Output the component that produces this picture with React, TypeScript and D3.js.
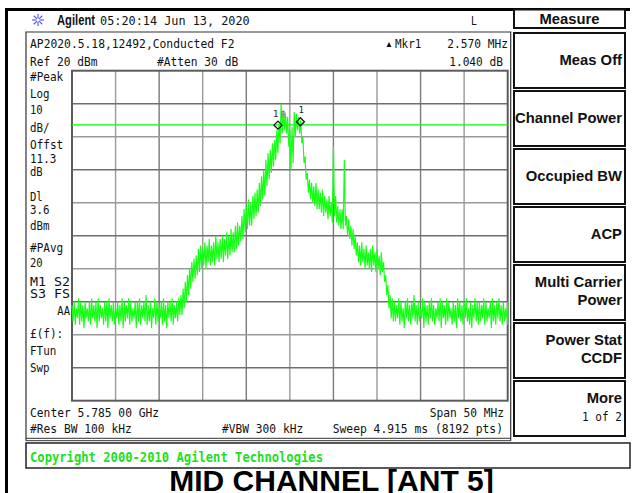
import React from "react";
import * as d3 from "d3";

const W = 642;
const H = 493;

// Analyzer settings
const REF_LEVEL = 20;
const DB_PER_DIV = 10;
const DIVS = 10;
const SPAN_MHZ = 50;
const DISPLAY_LINE = 3.6;

// Trace: peak (hi) / valley (lo) level per 0.25 MHz bin, offset from center (MHz)
const TRACE_START = -25;
const TRACE_STEP = 0.25;
const traceHi = [
  -51, -50, -52, -49, -50, -51, -50, -52, -50, -49, -51, -50, -49, -51, -52, -50, -50, -49, -51, -50,
  -52, -50, -51, -49, -50, -51, -49, -50, -52, -50, -50, -49, -51, -50, -48, -51, -50, -52, -49, -50,
  -51, -50, -49, -51, -50, -50, -49, -51, -50, -49,
  -48, -46, -44, -42, -40, -38, -37, -36, -34,
  -33, -34, -32, -33, -31, -33, -32, -30, -32, -31, -30, -31, -29, -30, -28, -29,
  -27, -26, -27, -24, -22, -21, -19, -20, -18, -17, -16, -14,
  -12, -10, -7, -5, -4,
  -2, -1, 2, 4,
  10, 8, 7, 6, 2, 3, 7.5, 7, 6, 5, 0, -6, -11,
  -13, -14, -15, -14, -16, -17, -16, -18, -19, -18, -20,
  -3,
  -18,
  -21, -22, -22,
  -7,
  -24, -25, -27, -28, -30,
  -32, -33, -32, -34, -33, -35, -34, -33, -35, -34, -36, -35,
  -38, -42, -45, -48, -49,
  -50, -51, -49, -50, -52, -50, -49, -51, -50, -48, -51, -50, -52, -49, -50, -51, -50, -49, -51, -52,
  -50, -49, -50, -51, -49, -50, -52, -50, -51, -49, -50, -51, -50, -49, -52, -50, -51, -49, -50, -50,
  -51, -49, -50, -52, -50, -49, -51, -50, -49, -51, -50, -52, -50,
];
const traceLo = [
  -56, -57, -55, -57, -56, -58, -55, -56, -57, -55, -56, -58, -56, -55, -57, -56, -58, -55, -56, -57,
  -55, -57, -56, -58, -56, -55, -57, -56, -55, -58, -56, -57, -55, -56, -57, -56, -58, -55, -57, -56,
  -55, -57, -56, -58, -55, -56, -57, -55, -56, -54,
  -54, -52, -50, -48, -46, -44, -43, -42, -41,
  -40, -39, -40, -38, -39, -38, -39, -37, -38, -37, -38, -36, -37, -36, -35, -35,
  -34, -33, -32, -31, -29, -28, -27, -27, -25, -24, -23, -21,
  -19, -18, -15, -13, -11,
  -9, -7, -5, -2,
  1, 2, 1, -3, -10, -8, 0, 2, 1, -2, -8, -13, -17,
  -19, -20, -21, -22, -22, -23, -24, -23, -25, -24, -26,
  -24,
  -26,
  -27, -28, -28,
  -27,
  -30, -31, -33, -34, -36,
  -38, -39, -38, -40, -39, -40, -41, -39, -41, -40, -42, -41,
  -44, -48, -52, -55, -56,
  -56, -55, -57, -56, -58, -55, -56, -57, -55, -56, -57, -56, -55, -58, -56, -57, -55, -56, -57, -55,
  -56, -58, -55, -57, -56, -55, -57, -56, -58, -55, -56, -57, -55, -56, -57, -58, -55, -56, -57, -56,
  -55, -57, -56, -55, -58, -56, -57, -55, -56, -57, -56, -55, -57,
];

// Markers (MHz offset, dBm)
const markerRef = { f: -1.36, level: 3.5, label: "1R" };
const markerDelta = { f: 1.21, level: 4.54, label: "1" };

// Texts
const headerTime = "05:20:14  Jun 13, 2020";
const titleLine = "AP2020.5.18,12492,Conducted F2";
const refText = "Ref 20 dBm";
const attenText = "#Atten 30 dB";
const mkrLabel = "Mkr1";
const mkrFreq = "2.570 MHz";
const mkrDelta = "1.040 dB";
const leftLabels = [
  "#Peak", "Log", "10", "dB/", "Offst", "11.3", "dB", "Dl", "3.6", "dBm",
  "#PAvg", "20", "M1  S2", "S3  FS", "AA", "£(f):", "FTun", "Swp",
];
const leftBaselines = [81, 97.7, 114, 131.5, 148.5, 163, 176, 200.5, 213.5, 230, 251.5, 267, 285.5, 297.5, 315, 338, 355, 372];
const centerText = "Center 5.785 00 GHz";
const spanText = "Span 50 MHz";
const rbwText = "#Res BW 100 kHz";
const vbwText = "#VBW 300 kHz";
const sweepText = "Sweep 4.915 ms (8192 pts)";
const copyrightText = "Copyright 2000-2010 Agilent Technologies";
const chartTitle = "MID CHANNEL [ANT 5]";
const menuTitle = "Measure";
const softkeys: { bold: string[]; normal?: string }[] = [
  { bold: ["Meas Off"] },
  { bold: ["Channel Power"] },
  { bold: ["Occupied BW"] },
  { bold: ["ACP"] },
  { bold: ["Multi Carrier", "Power"] },
  { bold: ["Power Stat", "CCDF"] },
  { bold: ["More"], normal: "1 of 2" },
];

const MONO = "'DejaVu Sans Mono', monospace";
const SANS = "'Liberation Sans', Arial, sans-serif";
const CW = 6.85;
const GREEN = "#14ff14";

function MonoText({ x, y, t, anchor = "start", fill = "#111", size = 12.6 }: { x: number; y: number; t: string; anchor?: string; fill?: string; size?: number }) {
  return (
    <text x={x} y={y} fontFamily={MONO} fontSize={size} fill={fill} textAnchor={anchor as any}
      textLength={t.length * CW - 1} lengthAdjust="spacingAndGlyphs">{t}</text>
  );
}

export default function App() {
  const gx0 = 72, gx1 = 507.7, gy0 = 70.7, gy1 = 400.7;
  const x = d3.scaleLinear().domain([-SPAN_MHZ / 2, SPAN_MHZ / 2]).range([gx0, gx1]);
  const y = d3.scaleLinear().domain([REF_LEVEL, REF_LEVEL - DB_PER_DIV * DIVS]).range([gy0, gy1]);

  const pts: [number, number][] = [];
  traceHi.forEach((hi, i) => {
    const f = TRACE_START + i * TRACE_STEP;
    pts.push([f, hi]);
    pts.push([Math.min(f + TRACE_STEP / 2, SPAN_MHZ / 2), traceLo[i]]);
  });
  const line = d3.line<[number, number]>().x((d) => x(d[0])).y((d) => y(d[1]));
  const tracePath = line(pts) || "";

  const vTicks = d3.range(DIVS + 1).map((i) => -SPAN_MHZ / 2 + (i * SPAN_MHZ) / DIVS);
  const hTicks = d3.range(DIVS + 1).map((i) => REF_LEVEL - i * DB_PER_DIV);

  const diamond = (cx: number, cy: number, r = 4) => `M${cx},${cy - r}L${cx + r},${cy}L${cx},${cy + r}L${cx - r},${cy}Z`;

  const skX0 = 514, skX1 = 625, skRight = 622;

  return (
    <svg width={W} height={H} style={{ display: "block", position: "absolute", left: 0, top: 0, background: "#fff" }}>
      <rect x={0} y={0} width={W} height={H} fill="#fff" />
      {/* outer black frame */}
      <rect x={5} y={8} width={3} height={H - 8} fill="#000" />
      <rect x={5} y={8} width={625} height={3} fill="#000" />

      {/* header */}
      <g stroke="#5a5af0" strokeWidth={1.2}>
        {d3.range(8).map((k) => {
          const a = (k * Math.PI) / 4;
          return <line key={k} x1={38 + Math.cos(a) * 1.5} y1={20 + Math.sin(a) * 1.5} x2={38 + Math.cos(a) * 6} y2={20 + Math.sin(a) * 6} />;
        })}
      </g>
      <text x={57} y={25} fontFamily={SANS} fontWeight="bold" fontSize={14} fill="#111" textLength={38} lengthAdjust="spacingAndGlyphs">Agilent</text>
      <MonoText x={100} y={25} t={headerTime} />
      <MonoText x={471} y={25} t="L" />

      {/* display frame */}
      <path d="M26,440.7 L26,32 L510.7,32 L510.7,440.7" fill="none" stroke="#333" strokeWidth={1.2} />
      <line x1={26} x2={510.7} y1={438.3} y2={438.3} stroke="#333" strokeWidth={1} />
      <line x1={26} x2={510.7} y1={440.7} y2={440.7} stroke="#333" strokeWidth={1} />

      <MonoText x={30} y={48} t={titleLine} />
      <MonoText x={30} y={65.7} t={refText} />
      <MonoText x={157} y={65.7} t={attenText} />
      <path d="M386.5,47 L391.5,47 L389,42 Z" fill="#111" />
      <MonoText x={395} y={48} t={mkrLabel} />
      <MonoText x={508} y={48} t={mkrFreq} anchor="end" />
      <MonoText x={503} y={65.7} t={mkrDelta} anchor="end" />

      {leftLabels.map((t, i) => (
        <MonoText key={t + i} x={t === "AA" ? 70 : 30} y={leftBaselines[i]} t={t} anchor={t === "AA" ? "end" : "start"} size={12} />
      ))}

      {/* grid */}
      <g>
        {vTicks.slice(1, -1).map((f, i) => (
          <line key={"v" + i} x1={x(f)} x2={x(f)} y1={gy0} y2={gy1} stroke={i % 2 ? "#7a7a7a" : "#9a9a9a"} strokeWidth={1.4} />
        ))}
        {hTicks.slice(1, -1).map((d, i) => (
          <line key={"h" + i} x1={gx0} x2={gx1} y1={y(d)} y2={y(d)} stroke={i % 2 ? "#9a9a9a" : "#6e6e6e"} strokeWidth={1.4} />
        ))}
        <rect x={gx0} y={gy0} width={gx1 - gx0} height={gy1 - gy0} fill="none" stroke="#5c5c5c" strokeWidth={2} />
      </g>

      {/* display line */}
      <line x1={gx0} x2={gx1} y1={y(DISPLAY_LINE)} y2={y(DISPLAY_LINE)} stroke="#00ff00" strokeWidth={1.2} />

      {/* trace */}
      <path d={tracePath} fill="none" stroke={GREEN} strokeWidth={1.15} strokeLinejoin="miter" />

      {/* markers */}
      <path d={diamond(x(markerRef.f), y(markerRef.level))} fill="none" stroke="#111" strokeWidth={1.3} />
      <path d={diamond(x(markerDelta.f), y(markerDelta.level))} fill="none" stroke="#111" strokeWidth={1.3} />
      <text x={x(markerRef.f) - 5} y={y(markerRef.level) - 8} fontFamily={MONO} fontSize={9} fill="#222">1</text>
      <text x={x(markerRef.f) + 3} y={y(markerRef.level) - 7} fontFamily={MONO} fontSize={8} fill="#777">R</text>
      <text x={x(markerDelta.f) - 2} y={y(markerDelta.level) - 9} fontFamily={MONO} fontSize={9} fill="#222">{markerDelta.label}</text>

      {/* bottom annotations */}
      <MonoText x={30} y={416.7} t={centerText} />
      <MonoText x={504} y={416.7} t={spanText} anchor="end" />
      <MonoText x={30} y={433.3} t={rbwText} />
      <MonoText x={222} y={433.3} t={vbwText} />
      <MonoText x={503} y={433.3} t={sweepText} anchor="end" />

      {/* copyright bar */}
      <rect x={26} y={443} width={604} height={25} fill="#fff" stroke="#222" strokeWidth={1.5} />
      <text x={30} y={461.5} fontFamily={MONO} fontWeight="bold" fontSize={14} fill="#1ee01e" textLength={293} lengthAdjust="spacingAndGlyphs">{copyrightText}</text>

      {/* title */}
      <text x={331.5} y={491} fontFamily={SANS} fontWeight="bold" fontSize={30} fill="#000" textAnchor="middle">{chartTitle}</text>

      {/* softkey panel */}
      <rect x={skX0} y={9.5} width={skX1 - skX0} height={18.5} fill="#fff" stroke="#111" strokeWidth={2} />
      <text x={569.5} y={23.5} fontFamily={SANS} fontWeight="bold" fontSize={14.8} fill="#111" textAnchor="middle">{menuTitle}</text>
      {softkeys.map((k, i) => {
        const top = 33 + i * 58;
        const twoLine = k.bold.length > 1 || !!k.normal;
        return (
          <g key={i}>
            <rect x={skX0} y={top} width={skX1 - skX0} height={55} fill="#fff" stroke="#111" strokeWidth={2} />
            {k.bold.map((t, j) => (
              <text key={j} x={skRight} y={top + (twoLine ? 22 + j * 18 : 32)} fontFamily={SANS} fontWeight="bold" fontSize={14.8} fill="#111" textAnchor="end">{t}</text>
            ))}
            {k.normal && (
              <MonoText x={skRight} y={top + 40} t={k.normal} anchor="end" />
            )}
          </g>
        );
      })}
    </svg>
  );
}
